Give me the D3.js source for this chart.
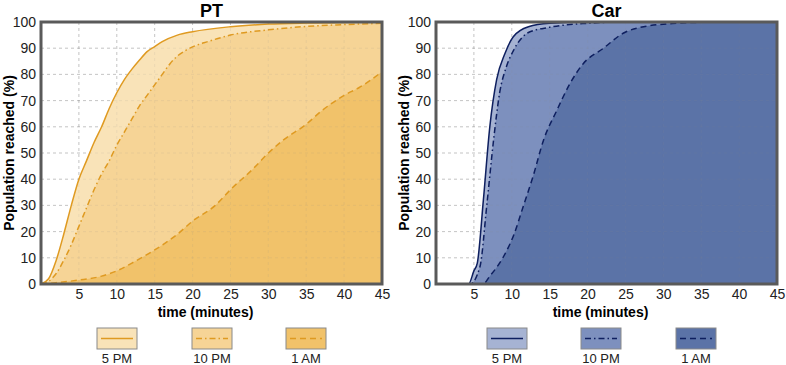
<!DOCTYPE html>
<html>
<head>
<meta charset="utf-8">
<script src="https://cdn.jsdelivr.net/npm/d3@7"></script>
<style>
  body { margin: 0; background: white; }
  text { font-family: "Liberation Sans", Arial, sans-serif; }
</style>
</head>
<body>
<div class="content"></div>
<script>
// values (time in minutes, population %)
const ptTime5pm = [0, 1, 2, 3, 4, 5, 6, 7, 8, 9, 10, 11, 12, 13, 14, 15, 16, 18, 20, 25, 30, 35, 40, 45]
const pt5pm = [0, 2, 9, 19, 30, 40, 47, 54, 60, 67, 73, 78, 82, 85.5, 88.7, 90.6, 92.5, 95, 96.3, 98.2, 99.2, 99.6, 99.8, 99.9]
const ptTime10pm = [0, 1, 2, 3, 4, 5, 6, 7, 8, 9, 10, 11, 12, 13, 14, 15, 16, 17, 18, 19, 20, 22, 25, 30, 35, 40, 45]
const pt10pm = [0, 1, 4, 9, 15, 22, 29, 36, 42, 47, 53, 58, 63, 68, 72, 76, 80, 84, 87, 89, 90.5, 92.5, 95, 97, 98.3, 99, 99.5]
const ptTime1am = [0, 2, 5, 8, 10, 12, 15, 18, 20, 23, 25, 28, 30, 32, 35, 37, 40, 42, 45]
const pt1am = [0, 0.5, 1.5, 3, 5, 8, 13, 19, 24, 30, 36, 44, 50, 55, 61, 66, 72, 75, 81]

const carTime5pm = [0, 4.3, 5, 5.45, 6.25, 7.1, 8, 9.1, 10.2, 12.2, 15, 20, 45]
const car5pm = [0, 0, 5, 8, 32, 60, 78, 88, 94.4, 98.2, 99.5, 100, 100]
const carTime10pm = [0, 4.5, 5.8, 6.7, 7.6, 8.4, 9.3, 10.2, 12.2, 15, 20, 25, 45]
const car10pm = [0, 0, 6.6, 30, 55, 73, 83, 89, 96, 98, 99.5, 100, 100]
const carTime1am = [0, 6.2, 7.1, 8.9, 10.3, 11.5, 12.8, 14.2, 15.9, 17.7, 19.4, 22.1, 24.7, 27.4, 31.8, 35.7, 45]
const car1am = [0, 0, 3, 10.4, 19, 29.5, 41, 55, 66, 76.6, 84, 90, 95.7, 98.2, 99.5, 99.9, 100]

const xTicks = [5, 10, 15, 20, 25, 30, 35, 40, 45]
const yTicks = [0, 10, 20, 30, 40, 50, 60, 70, 80, 90, 100]
const seriesNames = ['5 PM', '10 PM', '1 AM']

const panels = [
    {
        title: 'PT', left: 41,
        times: [ptTime5pm, ptTime10pm, ptTime1am],
        values: [pt5pm, pt10pm, pt1am],
        fills: ['#f9e3b8', '#f6d496', '#f1c26a'],
        line: '#df9a21',
        legendX: [97, 192, 286]
    },
    {
        title: 'Car', left: 436,
        times: [carTime5pm, carTime10pm, carTime1am],
        values: [car5pm, car10pm, car1am],
        fills: ['#a6b3d3', '#7d90be', '#5b73a7'],
        line: '#0e1f5f',
        legendX: [487, 581, 676]
    }
]
const dashes = [null, '6,3,1.5,3', '6,4']

const plotWidth = 341
const plotTop = 22
const plotBottom = 284

const svg = d3.select('div.content')
    .append('svg')
    .attr('width', 786)
    .attr('height', 365)

for (let p of panels) {
    let x = d3.scaleLinear().domain([0, 45]).range([p.left, p.left + plotWidth])
    let y = d3.scaleLinear().domain([0, 100]).range([plotBottom, plotTop])
    let g = svg.append('g')

    // gridlines, drawn twice: plain under the fills, faint over them
    let grid = (sel, op) => {
        sel.selectAll(null).data(xTicks.slice(0, -1)).enter().append('line')
            .attr('x1', d => x(d)).attr('x2', d => x(d))
            .attr('y1', plotTop).attr('y2', plotBottom)
            .attr('stroke', '#888').attr('stroke-opacity', op)
            .attr('stroke-dasharray', '3,3')
        sel.selectAll(null).data(yTicks.slice(1, -1)).enter().append('line')
            .attr('x1', x(0)).attr('x2', x(45))
            .attr('y1', d => y(d)).attr('y2', d => y(d))
            .attr('stroke', '#888').attr('stroke-opacity', op)
            .attr('stroke-dasharray', '3,3')
    }
    grid(g.append('g'), 0.4)

    for (let i = 0; i < 3; i++) {
        let pts = p.times[i].map((t, j) => [t, p.values[i][j]])
        let area = d3.area()
            .x(d => x(d[0])).y0(y(0)).y1(d => y(d[1]))
            .curve(d3.curveMonotoneX)
        g.append('path')
            .datum(pts)
            .attr('d', area)
            .attr('fill', p.fills[i])
    }
    grid(g.append('g'), 0.12)

    for (let i = 0; i < 3; i++) {
        let pts = p.times[i].map((t, j) => [t, p.values[i][j]])
        let line = d3.line()
            .x(d => x(d[0])).y(d => y(d[1]))
            .curve(d3.curveMonotoneX)
        g.append('path')
            .datum(pts)
            .attr('d', line)
            .attr('fill', 'none')
            .attr('stroke', p.line)
            .attr('stroke-width', 1.5)
            .attr('stroke-dasharray', dashes[i])
    }

    // frame
    g.append('rect')
        .attr('x', x(0)).attr('y', plotTop)
        .attr('width', plotWidth).attr('height', plotBottom - plotTop)
        .attr('fill', 'none')
        .attr('stroke', '#5a5a5a')
        .attr('stroke-width', 3)

    // axes
    let yAxis = d3.axisLeft(y).tickValues(yTicks).tickSize(0).tickPadding(4)
    g.append('g').attr('transform', `translate(${x(0) - 1},0)`).call(yAxis)
        .call(a => a.select('.domain').remove())
        .selectAll('text').attr('font-size', 14).attr('fill', '#222')
        .style('font-family', '"Liberation Sans", Arial, sans-serif')
    let xAxis = d3.axisBottom(x).tickValues(xTicks).tickSize(0).tickPadding(4)
    g.append('g').attr('transform', `translate(0,${plotBottom + 1})`).call(xAxis)
        .call(a => a.select('.domain').remove())
        .selectAll('text').attr('font-size', 14).attr('fill', '#222')
        .style('font-family', '"Liberation Sans", Arial, sans-serif')

    // titles
    g.append('text')
        .attr('x', (x(0) + x(45)) / 2).attr('y', 17)
        .attr('text-anchor', 'middle')
        .attr('font-size', 18).attr('font-weight', 'bold')
        .text(p.title)
    g.append('text')
        .attr('transform', `translate(${x(0) - 27},${(plotTop + plotBottom) / 2}) rotate(-90)`)
        .attr('text-anchor', 'middle')
        .attr('font-size', 14).attr('font-weight', 'bold')
        .text('Population reached (%)')
    g.append('text')
        .attr('x', x(22.5) - 6).attr('y', 317)
        .attr('text-anchor', 'middle')
        .attr('font-size', 14).attr('font-weight', 'bold')
        .text('time (minutes)')

    // legend
    for (let i = 0; i < 3; i++) {
        let lx = p.legendX[i]
        g.append('rect')
            .attr('x', lx).attr('y', 328)
            .attr('width', 40).attr('height', 21)
            .attr('fill', p.fills[i])
            .attr('stroke', '#8a8a8a')
        g.append('line')
            .attr('x1', lx + 4).attr('x2', lx + 36)
            .attr('y1', 338.5).attr('y2', 338.5)
            .attr('stroke', p.line)
            .attr('stroke-width', 1.5)
            .attr('stroke-dasharray', dashes[i])
        g.append('text')
            .attr('x', lx + 20).attr('y', 363)
            .attr('text-anchor', 'middle')
            .attr('font-size', 13)
            .attr('fill', '#222')
            .text(seriesNames[i])
    }
}
</script>
</body>
</html>
